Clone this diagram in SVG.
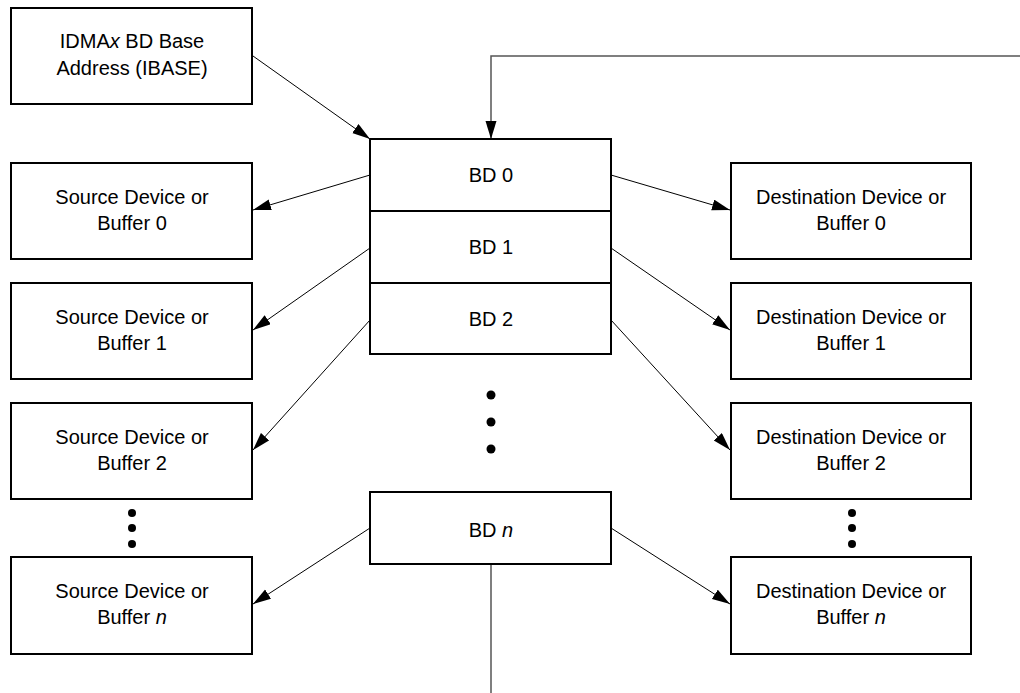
<svg xmlns="http://www.w3.org/2000/svg" width="1020" height="693" viewBox="0 0 1020 693">
  <style>
    .box { fill: #fff; stroke: #000; stroke-width: 2; }
    .lbl { font-family: "Liberation Sans", Arial, Helvetica, sans-serif; font-size: 20px; fill: #000; text-anchor: middle; }
    .it { font-style: italic; }
    .wire { fill: none; stroke: #000; stroke-width: 1; }
    .bus { fill: none; stroke: #555; stroke-width: 1.5; }
    .dot { fill: #000; }
  </style>
  <defs>
    <marker id="arrow" markerUnits="userSpaceOnUse" markerWidth="19" markerHeight="12" refX="18" refY="5.5" orient="auto">
      <path d="M0,0 L18,5.5 L0,11 z" fill="#000"/>
    </marker>
  </defs>
  <rect width="1020" height="693" fill="#fff"/>

  <!-- connectors -->
  <g id="connectors">
    <line class="wire" x1="253" y1="56" x2="370" y2="139" marker-end="url(#arrow)"/>
    <polyline class="bus" points="1020,56 491,56 491,139" marker-end="url(#arrow)"/>
    <line class="bus" x1="491" y1="564" x2="491" y2="693"/>
    <!-- to sources -->
    <line class="wire" x1="370" y1="175" x2="253" y2="210" marker-end="url(#arrow)"/>
    <line class="wire" x1="370" y1="248" x2="253" y2="330" marker-end="url(#arrow)"/>
    <line class="wire" x1="370" y1="320" x2="253" y2="450" marker-end="url(#arrow)"/>
    <line class="wire" x1="370" y1="528" x2="253" y2="604" marker-end="url(#arrow)"/>
    <!-- to destinations -->
    <line class="wire" x1="611" y1="175" x2="730" y2="210" marker-end="url(#arrow)"/>
    <line class="wire" x1="611" y1="248" x2="730" y2="330" marker-end="url(#arrow)"/>
    <line class="wire" x1="611" y1="320" x2="730" y2="450" marker-end="url(#arrow)"/>
    <line class="wire" x1="611" y1="528" x2="730" y2="604" marker-end="url(#arrow)"/>
  </g>

  <g id="ibase">
    <rect class="box" x="11" y="8" width="241" height="96"/>
    <text class="lbl" x="132" y="48">IDMA<tspan class="it">x</tspan> BD Base</text>
    <text class="lbl" x="132" y="75">Address (IBASE)</text>
  </g>

  <g id="bd0">
    <rect class="box" x="370" y="139" width="241" height="72"/>
    <text class="lbl" x="491" y="182">BD 0</text>
  </g>
  <g id="bd1">
    <rect class="box" x="370" y="211" width="241" height="72"/>
    <text class="lbl" x="491" y="254">BD 1</text>
  </g>
  <g id="bd2">
    <rect class="box" x="370" y="283" width="241" height="71"/>
    <text class="lbl" x="491" y="326">BD 2</text>
  </g>
  <g id="bd-dots">
    <circle class="dot" cx="491" cy="395" r="4.5"/>
    <circle class="dot" cx="491" cy="422" r="4.5"/>
    <circle class="dot" cx="491" cy="449" r="4.5"/>
  </g>
  <g id="bdn">
    <rect class="box" x="370" y="492" width="241" height="72"/>
    <text class="lbl" x="491" y="537">BD <tspan class="it">n</tspan></text>
  </g>

  <g id="src0">
    <rect class="box" x="11" y="163" width="241" height="96"/>
    <text class="lbl" x="132" y="204">Source Device or</text>
    <text class="lbl" x="132" y="230">Buffer 0</text>
  </g>
  <g id="src1">
    <rect class="box" x="11" y="283" width="241" height="96"/>
    <text class="lbl" x="132" y="324">Source Device or</text>
    <text class="lbl" x="132" y="350">Buffer 1</text>
  </g>
  <g id="src2">
    <rect class="box" x="11" y="403" width="241" height="96"/>
    <text class="lbl" x="132" y="444">Source Device or</text>
    <text class="lbl" x="132" y="470">Buffer 2</text>
  </g>
  <g id="src-dots">
    <circle class="dot" cx="132" cy="513" r="4"/>
    <circle class="dot" cx="132" cy="528" r="4"/>
    <circle class="dot" cx="132" cy="544" r="4"/>
  </g>
  <g id="srcn">
    <rect class="box" x="11" y="557" width="241" height="97"/>
    <text class="lbl" x="132" y="598">Source Device or</text>
    <text class="lbl" x="132" y="624">Buffer <tspan class="it">n</tspan></text>
  </g>

  <g id="dst0">
    <rect class="box" x="731" y="163" width="240" height="96"/>
    <text class="lbl" x="851" y="204">Destination Device or</text>
    <text class="lbl" x="851" y="230">Buffer 0</text>
  </g>
  <g id="dst1">
    <rect class="box" x="731" y="283" width="240" height="96"/>
    <text class="lbl" x="851" y="324">Destination Device or</text>
    <text class="lbl" x="851" y="350">Buffer 1</text>
  </g>
  <g id="dst2">
    <rect class="box" x="731" y="403" width="240" height="96"/>
    <text class="lbl" x="851" y="444">Destination Device or</text>
    <text class="lbl" x="851" y="470">Buffer 2</text>
  </g>
  <g id="dst-dots">
    <circle class="dot" cx="852" cy="513" r="4"/>
    <circle class="dot" cx="852" cy="528" r="4"/>
    <circle class="dot" cx="852" cy="544" r="4"/>
  </g>
  <g id="dstn">
    <rect class="box" x="731" y="557" width="240" height="97"/>
    <text class="lbl" x="851" y="598">Destination Device or</text>
    <text class="lbl" x="851" y="624">Buffer <tspan class="it">n</tspan></text>
  </g>
</svg>
